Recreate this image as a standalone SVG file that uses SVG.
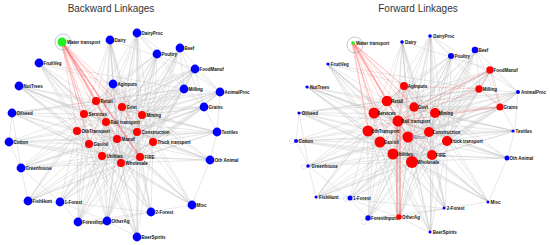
<svg xmlns="http://www.w3.org/2000/svg" xmlns:xlink="http://www.w3.org/1999/xlink" width="550" height="245" viewBox="0 0 550 245">
<style>
.title{font-family:"Liberation Sans",Arial,sans-serif;font-size:10px;fill:#333}
.lb{font-family:"Liberation Sans",Arial,sans-serif;font-size:4.5px;font-weight:bold;fill:#111}
.web{fill:none;stroke:#b8b8b8;stroke-width:0.5;stroke-opacity:0.65}
.red{fill:none;stroke:#ff5a5a;stroke-width:0.6;stroke-opacity:0.42}
.redk{fill:none;stroke:#ff4040;stroke-width:1.4;stroke-opacity:0.5}
.b{fill:#0000ff}
.r{fill:#ff0000}
.g{fill:#22ee22}
.ring{fill:none;stroke:#90a8c0;stroke-width:0.6}
.loop{fill:none;stroke:#ccc;stroke-width:0.5}
</style>
<defs>
<path id="webL" class="web" d="M110 40L96 101M110 40L122 107M110 40L84 114M110 40L106 122M110 40L137 132M110 40L117 139M110 40L140 157M110 40L121 163M110 40L102 156M110 40L113 84M110 40L195 69
M137 33L96 101M137 33L122 107M137 33L142 115M137 33L106 122M137 33L137 132M137 33L117 139M137 33L153 142M137 33L140 157M137 33L121 163M137 33L89 144M137 33L157 54M137 33L184 89M137 33L220 92
M157 54L96 101M157 54L122 107M157 54L142 115M157 54L106 122M157 54L137 132M157 54L117 139M157 54L153 142M157 54L140 157M157 54L121 163M157 54L84 114M157 54L113 84M157 54L204 107
M180 48L122 107M180 48L142 115M180 48L137 132M180 48L153 142M180 48L117 139M180 48L140 157M180 48L121 163M180 48L106 122M180 48L184 89M180 48L220 92M180 48L204 107
M195 69L96 101M195 69L122 107M195 69L142 115M195 69L106 122M195 69L137 132M195 69L153 142M195 69L140 157M195 69L121 163M195 69L117 139M195 69L84 114M195 69L77 131M195 69L204 107M195 69L184 89M195 69L220 92
M39 63L96 101M39 63L84 114M39 63L77 131M39 63L106 122M39 63L89 144M39 63L102 156M39 63L117 139M39 63L121 163M39 63L140 157M39 63L113 84
M19 86L96 101M19 86L84 114M19 86L77 131M19 86L89 144M19 86L106 122M19 86L102 156M19 86L117 139M19 86L121 163M19 86L137 132
M113 84L96 101M113 84L122 107M113 84L84 114M113 84L142 115M113 84L106 122M113 84L77 131M113 84L137 132M113 84L117 139M113 84L89 144M113 84L102 156M113 84L140 157M113 84L121 163M113 84L153 142
M184 89L96 101M184 89L122 107M184 89L142 115M184 89L106 122M184 89L137 132M184 89L153 142M184 89L140 157M184 89L121 163M184 89L117 139M184 89L204 107M184 89L220 92
M220 92L122 107M220 92L142 115M220 92L137 132M220 92L153 142M220 92L140 157M220 92L121 163M220 92L117 139M220 92L106 122M220 92L217 132M220 92L204 107
M204 107L122 107M204 107L142 115M204 107L137 132M204 107L153 142M204 107L140 157M204 107L121 163M204 107L106 122M204 107L117 139M204 107L84 114M204 107L217 132
M12 113L96 101M12 113L84 114M12 113L77 131M12 113L89 144M12 113L106 122M12 113L102 156M12 113L117 139M12 113L121 163M12 113L21 168M12 113L9 142
M217 132L142 115M217 132L137 132M217 132L153 142M217 132L140 157M217 132L121 163M217 132L117 139M217 132L106 122M217 132L210 160M217 132L122 107
M9 142L84 114M9 142L77 131M9 142L89 144M9 142L106 122M9 142L102 156M9 142L117 139M9 142L121 163M9 142L140 157M9 142L21 168
M210 160L142 115M210 160L137 132M210 160L153 142M210 160L140 157M210 160L121 163M210 160L117 139M210 160L102 156M210 160L106 122M210 160L192 205
M21 168L84 114M21 168L77 131M21 168L89 144M21 168L102 156M21 168L117 139M21 168L121 163M21 168L140 157M21 168L106 122M21 168L28 201M21 168L60 202
M28 201L77 131M28 201L89 144M28 201L102 156M28 201L121 163M28 201L117 139M28 201L84 114M28 201L140 157M28 201L60 202
M60 202L77 131M60 202L89 144M60 202L102 156M60 202L121 163M60 202L117 139M60 202L106 122M60 202L140 157M60 202L137 132M60 202L78 222M60 202L107 221M60 202L151 212
M192 205L153 142M192 205L140 157M192 205L121 163M192 205L137 132M192 205L117 139M192 205L142 115M192 205L102 156M192 205L151 212M192 205L89 144
M151 212L102 156M151 212L140 157M151 212L121 163M151 212L117 139M151 212L137 132M151 212L153 142M151 212L89 144M151 212L106 122M151 212L107 221M151 212L78 222
M78 222L89 144M78 222L102 156M78 222L121 163M78 222L117 139M78 222L106 122M78 222L140 157M78 222L77 131M78 222L84 114M78 222L107 221M78 222L137 132
M107 221L89 144M107 221L102 156M107 221L121 163M107 221L117 139M107 221L140 157M107 221L106 122M107 221L137 132M107 221L77 131M107 221L122 107M107 221L137 237M107 221L142 115
M137 237L102 156M137 237L121 163M137 237L140 157M137 237L117 139M137 237L137 132M137 237L153 142M137 237L89 144M137 237L106 122M137 237L77 131
M96 101L122 107M96 101L84 114M96 101L106 122M96 101L117 139M122 107L142 115M122 107L106 122M122 107L137 132M84 114L106 122M84 114L77 131M84 114L89 144M142 115L137 132M142 115L153 142M106 122L117 139M106 122L137 132M77 131L89 144M77 131L117 139M137 132L117 139M137 132L153 142M137 132L140 157M117 139L89 144M117 139L102 156M117 139L140 157M117 139L121 163M89 144L102 156M153 142L140 157M102 156L121 163M140 157L121 163M102 156L140 157M96 101L142 115M84 114L137 132M77 131L137 132M89 144L140 157M106 122L121 163M122 107L121 163M96 101L121 163M84 114L121 163M142 115L121 163M142 115L117 139M106 122L102 156M122 107L102 156M77 131L102 156
M39 63L184 89M19 86L217 132M12 113L220 92M9 142L217 132M137 33L137 237M110 40L151 212M157 54L78 222M195 69L60 202M180 48L107 221M21 168L204 107M28 201L153 142M192 205L84 114M12 113L184 89M19 86L210 160M39 63L192 205M113 84L210 160M113 84L28 201"/>
</defs>
<text class="title" x="111" y="11.5" text-anchor="middle">Backward Linkages</text>
<text class="title" x="418" y="11.5" text-anchor="middle">Forward Linkages</text>
<g id="connectors">
<use xlink:href="#webL"/>
<use xlink:href="#webL" transform="matrix(1.052 0 0 0.97 286.5 3)"/>
<circle class="loop" cx="292" cy="141" r="2.5"/>
<circle class="loop" cx="346" cy="199" r="2.5"/>
<circle class="loop" cx="304" cy="167" r="2.5"/>
<circle class="loop" cx="364" cy="222" r="2.5"/>
<path class="red" d="M62 42L96 101M62 42L122 107M62 42L84 114M62 42L142 115M62 42L106 122M62 42L77 131M62 42L137 132M62 42L117 139M62 42L89 144M62 42L153 142M62 42L102 156M62 42L121 163M63 42L97 101M61 43L85 114M63 43L107 122M63 42L118 139M61 43L90 144"/>
<path class="redk" d="M62 42L140 157"/>
<path class="red" d="M353 43L387 101M353 43L374 113M353 43L368 131M353 43L398 121M353 43L380 142M353 43L393 154M353 43L408 137M353 43L412 162M353 43L432 155M353 43L414 107M353 43L404 86M353 43L429 132M353 43L435 113M353 43L447 141M354 43L388 101M352 44L375 113M354 43L399 121M352 44L369 131"/>
<path class="red" d="M490 70L479 89M490 70L500 107M490 70L414 107M490 70L398 121M479 89L500 107M479 89L404 86M479 89L398 121M500 107L398 121M500 107L435 113M404 86L398 121M404 86L374 113M404 86L408 137M398 121L408 137M398 121L368 131M374 113L408 137M408 137L412 162M408 137L432 155M398 121L429 132"/>
<path class="redk" d="M397 217L397 121M400 217L400 121"/>
</g>
<g id="L-WaterTransport"><circle class="ring" cx="63" cy="42" r="8"/><circle class="g" cx="62" cy="42" r="4.5"/><text class="lb" x="67" y="43.6">Water transport</text></g>
<g id="L-Dairy"><circle class="b" cx="110" cy="40" r="4.4"/><text class="lb" x="114.6" y="41.6">Dairy</text></g>
<g id="L-DairyProc"><circle class="b" cx="137" cy="33" r="4.4"/><text class="lb" x="141.6" y="34.6">DairyProc</text></g>
<g id="L-Poultry"><circle class="b" cx="157" cy="54" r="4.4"/><text class="lb" x="161.6" y="55.6">Poultry</text></g>
<g id="L-Beef"><circle class="b" cx="180" cy="48" r="4.4"/><text class="lb" x="184.6" y="49.6">Beef</text></g>
<g id="L-FoodManuf"><circle class="b" cx="195" cy="69" r="4.4"/><text class="lb" x="199.6" y="70.6">FoodManuf</text></g>
<g id="L-FruitVeg"><circle class="b" cx="39" cy="63" r="4.4"/><text class="lb" x="43.6" y="64.6">FruitVeg</text></g>
<g id="L-NutTrees"><circle class="b" cx="19" cy="86" r="4.4"/><text class="lb" x="23.6" y="87.6">NutTrees</text></g>
<g id="L-AgInputs"><circle class="b" cx="113" cy="84" r="4.4"/><text class="lb" x="117.6" y="85.6">AgInputs</text></g>
<g id="L-Milling"><circle class="b" cx="184" cy="89" r="4.4"/><text class="lb" x="188.6" y="90.6">Milling</text></g>
<g id="L-AnimalProc"><circle class="b" cx="220" cy="92" r="4.4"/><text class="lb" x="224.6" y="93.6">AnimalProc</text></g>
<g id="L-Grains"><circle class="b" cx="204" cy="107" r="4.4"/><text class="lb" x="208.6" y="108.6">Grains</text></g>
<g id="L-Oilseed"><circle class="b" cx="12" cy="113" r="4.4"/><text class="lb" x="16.6" y="114.6">Oilseed</text></g>
<g id="L-Textiles"><circle class="b" cx="217" cy="132" r="4.4"/><text class="lb" x="221.6" y="133.6">Textiles</text></g>
<g id="L-Cotton"><circle class="b" cx="9" cy="142" r="4.4"/><text class="lb" x="13.6" y="143.6">Cotton</text></g>
<g id="L-OthAnimal"><circle class="b" cx="210" cy="160" r="4.4"/><text class="lb" x="214.6" y="161.6">Oth Animal</text></g>
<g id="L-Greenhouse"><circle class="b" cx="21" cy="168" r="4.4"/><text class="lb" x="25.6" y="169.6">Greenhouse</text></g>
<g id="L-FishHunt"><circle class="b" cx="28" cy="201" r="4.4"/><text class="lb" x="32.6" y="202.6">FishHunt</text></g>
<g id="L-1Forest"><circle class="b" cx="60" cy="202" r="4.4"/><text class="lb" x="64.6" y="203.6">1-Forest</text></g>
<g id="L-Misc"><circle class="b" cx="192" cy="205" r="4.4"/><text class="lb" x="196.6" y="206.6">Misc</text></g>
<g id="L-2Forest"><circle class="b" cx="151" cy="212" r="4.4"/><text class="lb" x="155.6" y="213.6">2-Forest</text></g>
<g id="L-ForestInputs"><circle class="b" cx="78" cy="222" r="4.4"/><text class="lb" x="82.6" y="223.6">ForestInputs</text></g>
<g id="L-OtherAg"><circle class="b" cx="107" cy="221" r="4.4"/><text class="lb" x="111.6" y="222.6">OtherAg</text></g>
<g id="L-BeerSpirits"><circle class="b" cx="137" cy="237" r="4.4"/><text class="lb" x="141.6" y="238.6">BeerSpirits</text></g>
<g id="L-Retail"><circle class="r" cx="96" cy="101" r="4"/><text class="lb" x="100.4" y="102.6">Retail</text></g>
<g id="L-Govt"><circle class="r" cx="122" cy="107" r="4"/><text class="lb" x="126.4" y="108.6">Govt</text></g>
<g id="L-Services"><circle class="r" cx="84" cy="114" r="4"/><text class="lb" x="88.4" y="115.6">Services</text></g>
<g id="L-Mining"><circle class="r" cx="142" cy="115" r="4"/><text class="lb" x="146.4" y="116.6">Mining</text></g>
<g id="L-RailTransport"><circle class="r" cx="106" cy="122" r="4"/><text class="lb" x="110.4" y="123.6">Rail transport</text></g>
<g id="L-OthTransport"><circle class="r" cx="77" cy="131" r="4"/><text class="lb" x="81.4" y="132.6">OthTransport</text></g>
<g id="L-Construction"><circle class="r" cx="137" cy="132" r="4"/><text class="lb" x="141.4" y="133.6">Construction</text></g>
<g id="L-Manuf"><circle class="r" cx="117" cy="139" r="4"/><text class="lb" x="121.4" y="140.6">Manuf</text></g>
<g id="L-GasOil"><circle class="r" cx="89" cy="144" r="4"/><text class="lb" x="93.4" y="145.6">Gas/oil</text></g>
<g id="L-TruckTransport"><circle class="r" cx="153" cy="142" r="4"/><text class="lb" x="157.4" y="143.6">Truck transport</text></g>
<g id="L-Utilities"><circle class="r" cx="102" cy="156" r="4"/><text class="lb" x="106.4" y="157.6">Utilities</text></g>
<g id="L-FIRE"><circle class="r" cx="140" cy="157" r="4"/><text class="lb" x="144.4" y="158.6">FIRE</text></g>
<g id="L-Wholesale"><circle class="r" cx="121" cy="163" r="4"/><text class="lb" x="125.4" y="164.6">Wholesale</text></g>
<g id="R-WaterTransport"><circle class="ring" cx="355" cy="45" r="8"/><circle class="g" cx="353" cy="43" r="1.8"/><text class="lb" x="356" y="44.6">Water transport</text></g>
<g id="R-Dairy"><circle class="b" cx="402" cy="42" r="1.8"/><text class="lb" x="405" y="43.6">Dairy</text></g>
<g id="R-DairyProc"><circle class="b" cx="430" cy="36" r="1.8"/><text class="lb" x="433.3" y="37.6">DairyProc</text></g>
<g id="R-Poultry"><circle class="b" cx="451" cy="56" r="3"/><text class="lb" x="454.5" y="57.6">Poultry</text></g>
<g id="R-Beef"><circle class="b" cx="475" cy="50" r="3.3"/><text class="lb" x="478.5" y="51.6">Beef</text></g>
<g id="R-FoodManuf"><circle class="r" cx="490" cy="70" r="3.7"/><text class="lb" x="493.5" y="71.6">FoodManuf</text></g>
<g id="R-FruitVeg"><circle class="b" cx="328" cy="64" r="1.6"/><text class="lb" x="330.7" y="65.6">FruitVeg</text></g>
<g id="R-NutTrees"><circle class="b" cx="307" cy="87" r="1.6"/><text class="lb" x="310" y="88.6">NutTrees</text></g>
<g id="R-AgInputs"><circle class="r" cx="404" cy="86" r="4"/><text class="lb" x="407.7" y="87.6">AgInputs</text></g>
<g id="R-Milling"><circle class="r" cx="479" cy="89" r="3.7"/><text class="lb" x="482.7" y="90.6">Milling</text></g>
<g id="R-AnimalProc"><circle class="b" cx="518" cy="92" r="2"/><text class="lb" x="521" y="93.6">AnimalProc</text></g>
<g id="R-Grains"><circle class="r" cx="500" cy="107" r="3.6"/><text class="lb" x="503.5" y="108.6">Grains</text></g>
<g id="R-Oilseed"><circle class="b" cx="299" cy="113" r="1.6"/><text class="lb" x="301.7" y="114.6">Oilseed</text></g>
<g id="R-Textiles"><circle class="b" cx="513" cy="131" r="1.6"/><text class="lb" x="515.5" y="132.6">Textiles</text></g>
<g id="R-Cotton"><circle class="b" cx="296" cy="141" r="2"/><text class="lb" x="298.5" y="142.6">Cotton</text></g>
<g id="R-OthAnimal"><circle class="b" cx="507" cy="158" r="2.5"/><text class="lb" x="509.5" y="159.6">Oth Animal</text></g>
<g id="R-Greenhouse"><circle class="b" cx="308" cy="166" r="1.8"/><text class="lb" x="311.5" y="167.6">Greenhouse</text></g>
<g id="R-FishHunt"><circle class="b" cx="316" cy="197" r="1.5"/><text class="lb" x="319" y="198.6">FishHunt</text></g>
<g id="R-1Forest"><circle class="b" cx="350" cy="198" r="2.5"/><text class="lb" x="353" y="199.6">1-Forest</text></g>
<g id="R-Misc"><circle class="b" cx="488" cy="202" r="1.5"/><text class="lb" x="490.5" y="203.6">Misc</text></g>
<g id="R-2Forest"><circle class="b" cx="444" cy="208" r="1.5"/><text class="lb" x="446.7" y="209.6">2-Forest</text></g>
<g id="R-ForestInputs"><circle class="b" cx="368" cy="218" r="2.7"/><text class="lb" x="371" y="219.6">ForestInputs</text></g>
<g id="R-OtherAg"><circle class="r" cx="399" cy="217" r="2.7"/><text class="lb" x="402" y="218.6">OtherAg</text></g>
<g id="R-BeerSpirits"><circle class="b" cx="430" cy="232" r="1.5"/><text class="lb" x="432.7" y="233.6">BeerSpirits</text></g>
<g id="R-Retail"><circle class="r" cx="387" cy="101" r="5.3"/><text class="lb" x="391" y="102.6">Retail</text></g>
<g id="R-Govt"><circle class="r" cx="414" cy="107" r="4.7"/><text class="lb" x="417.7" y="108.6">Govt</text></g>
<g id="R-Services"><circle class="r" cx="374" cy="113" r="5.5"/><text class="lb" x="377.3" y="114.6">Services</text></g>
<g id="R-Mining"><circle class="r" cx="435" cy="113" r="5"/><text class="lb" x="438.5" y="114.6">Mining</text></g>
<g id="R-RailTransport"><circle class="r" cx="398" cy="121" r="5.5"/><text class="lb" x="401" y="122.6">Rail transport</text></g>
<g id="R-OthTransport"><circle class="r" cx="368" cy="131" r="5.5"/><text class="lb" x="371" y="132.6">OthTransport</text></g>
<g id="R-Construction"><circle class="r" cx="429" cy="132" r="5"/><text class="lb" x="432.3" y="133.6">Construction</text></g>
<g id="R-Manuf"><circle class="r" cx="408" cy="137" r="5.5"/><text class="lb" x="412.3" y="138.6" style="fill:#8890a8">Manuf</text></g>
<g id="R-GasOil"><circle class="r" cx="380" cy="142" r="5.5"/><text class="lb" x="383.7" y="143.6">Gas/oil</text></g>
<g id="R-TruckTransport"><circle class="r" cx="447" cy="141" r="5"/><text class="lb" x="449.7" y="142.6">Truck transport</text></g>
<g id="R-Utilities"><circle class="r" cx="393" cy="154" r="5.5"/><text class="lb" x="396.7" y="155.6">Utilities</text></g>
<g id="R-FIRE"><circle class="r" cx="432" cy="155" r="5"/><text class="lb" x="435.8" y="156.6">FIRE</text></g>
<g id="R-Wholesale"><circle class="r" cx="412" cy="162" r="6"/><text class="lb" x="417" y="163.6">Wholesale</text></g>
</svg>
